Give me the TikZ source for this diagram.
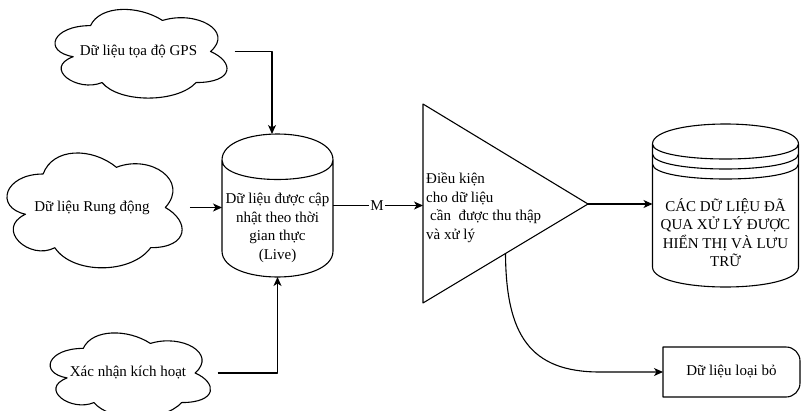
\documentclass[tikz,border=0pt]{standalone}
\usepackage{fontspec}
\setmainfont{Liberation Serif}
\usetikzlibrary{arrows.meta,calc}

% cloud outline drawn over the bounding box of a node (width, height in pt)
\newcommand\cloudoutline[3]{%
  \draw[line, fill=white, shift={(#1.north west)}, x=#2pt, y=-#3pt]
    (0.25,0.25) .. controls (0.05,0.25) and (0,0.5) .. (0.16,0.55)
    .. controls (0,0.66) and (0.18,0.9) .. (0.31,0.8)
    .. controls (0.4,1) and (0.7,1) .. (0.8,0.8)
    .. controls (1,0.8) and (1,0.6) .. (0.875,0.5)
    .. controls (1,0.3) and (0.8,0.1) .. (0.625,0.2)
    .. controls (0.5,0.05) and (0.3,0.05) .. (0.25,0.25) -- cycle;
}
% cylinder: node, width, height, cap depth
\newcommand\cylinderoutline[4]{%
  \draw[line, fill=white, shift={(#1.north west)}]
    (0,#4) .. controls (0,-#4/3) and (#2,-#4/3) .. (#2,#4)
    -- (#2,#3-#4) .. controls (#2,#3+#4/3) and (0,#3+#4/3) .. (0,#3-#4) -- cycle
    (0,#4) .. controls (0,2*#4) and (#2,2*#4) .. (#2,#4);
}
% data store: cylinder with two extra rims
\newcommand\storeoutline[4]{%
  \cylinderoutline{#1}{#2}{#3}{#4}
  \draw[line, shift={(#1.north west)}]
    (0,1.5*#4) .. controls (0,2.5*#4) and (#2,2.5*#4) .. (#2,1.5*#4)
    (0,2*#4) .. controls (0,3*#4) and (#2,3*#4) .. (#2,2*#4);
}

\begin{document}
\begin{tikzpicture}[x=1pt,y=-1pt,
  line/.style={line width=1.1pt, draw=black, line join=round},
  flow/.style={line, -{Stealth[length=9pt,width=8pt,inset=2.5pt]}},
  every node/.style={font=\fontsize{15}{18.5}\selectfont},
  shapebox/.style={inner sep=0pt, outer sep=0pt, align=center},
  txt/.style={inner sep=0pt, align=center},
]
\fill[white] (0,0) rectangle (801,410);
\useasboundingbox (0,0) rectangle (801,410);

% sources
\node[shapebox, minimum width=192pt, minimum height=103.5pt] (gps) at (138.5,51.5) {};
\node[shapebox, minimum width=195.5pt, minimum height=134pt] (rung) at (92,207.5) {};
\node[shapebox, minimum width=179pt, minimum height=98.5pt] (xac) at (128,373) {};
\cloudoutline{gps}{192}{103.5}
\cloudoutline{rung}{195.5}{134}
\cloudoutline{xac}{179}{98.5}
\node[txt] (gps-t) at (gps) {Dữ liệu tọa độ GPS};
\node[txt] (rung-t) at (rung) {Dữ liệu Rung động};
\node[txt] (xac-t) at (xac) {Xác nhận kích hoạt};

% live data cylinder
\node[shapebox, minimum width=111pt, minimum height=143pt] (live) at (277.5,205.5) {};
\cylinderoutline{live}{111}{143}{26}
\node[txt] (live-t) at (277.5,228) {Dữ liệu được cập\\nhật theo thời\\gian thực\\(Live)};

% condition triangle
\coordinate (tri-nw) at (423,104);
\coordinate (tri-sw) at (423,303);
\coordinate (tri-apex) at (588,204);
\coordinate (tri-in) at (423,205.5);
\coordinate (tri-out) at ($(tri-apex)!0.5!(tri-sw)$);
\draw[line, fill=white] (tri-nw) -- (tri-apex) -- (tri-sw) -- cycle;
\node[inner sep=0pt, align=left, anchor=west] (tri-t) at (426,207.5)
  {Điều kiện\\cho dữ liệu\\\hspace*{4pt}cần\ \ được thu thập\\và xử lý};

% processed data store
\node[shapebox, minimum width=146pt, minimum height=163pt] (store) at (725.5,205.5) {};
\storeoutline{store}{146}{163}{20}
\node[txt] (store-t) at (725.5,232.5) {CÁC DỮ LIỆU ĐÃ\\QUA XỬ LÝ ĐƯỢC\\HIỂN THỊ VÀ LƯU\\TRỮ};

% discarded data
\node[shapebox, minimum width=137pt, minimum height=50pt] (discard) at (731.5,372) {Dữ liệu loại bỏ};
\draw[line] let \p1=(discard.north west), \p2=(discard.south east) in
  (\x1,\y1) -- (\x2-14pt,\y1) arc[start angle=90,end angle=0,radius=14pt]
  -- (\x2,\y2+14pt) arc[start angle=0,end angle=-90,radius=14pt] -- (\x1,\y2) -- cycle;

% connectors
\draw[flow] (gps.east) -| ([xshift=-5.5pt]live.north);
\draw[flow] (rung.east) -- (rung.east -| live.west);
\draw[flow] (xac.east) -| (live.south);
\draw[flow] (live.east) -- (tri-in) node[pos=0.49, fill=white, inner sep=1pt] (m) {M};
\draw[flow] (tri-apex) -- (tri-apex -| store.west);
\draw[flow] (tri-out) .. controls +(0.5,81.5) and +(-70,0) .. ([xshift=-63pt]discard.west) -- (discard.west);
\end{tikzpicture}
\end{document}
